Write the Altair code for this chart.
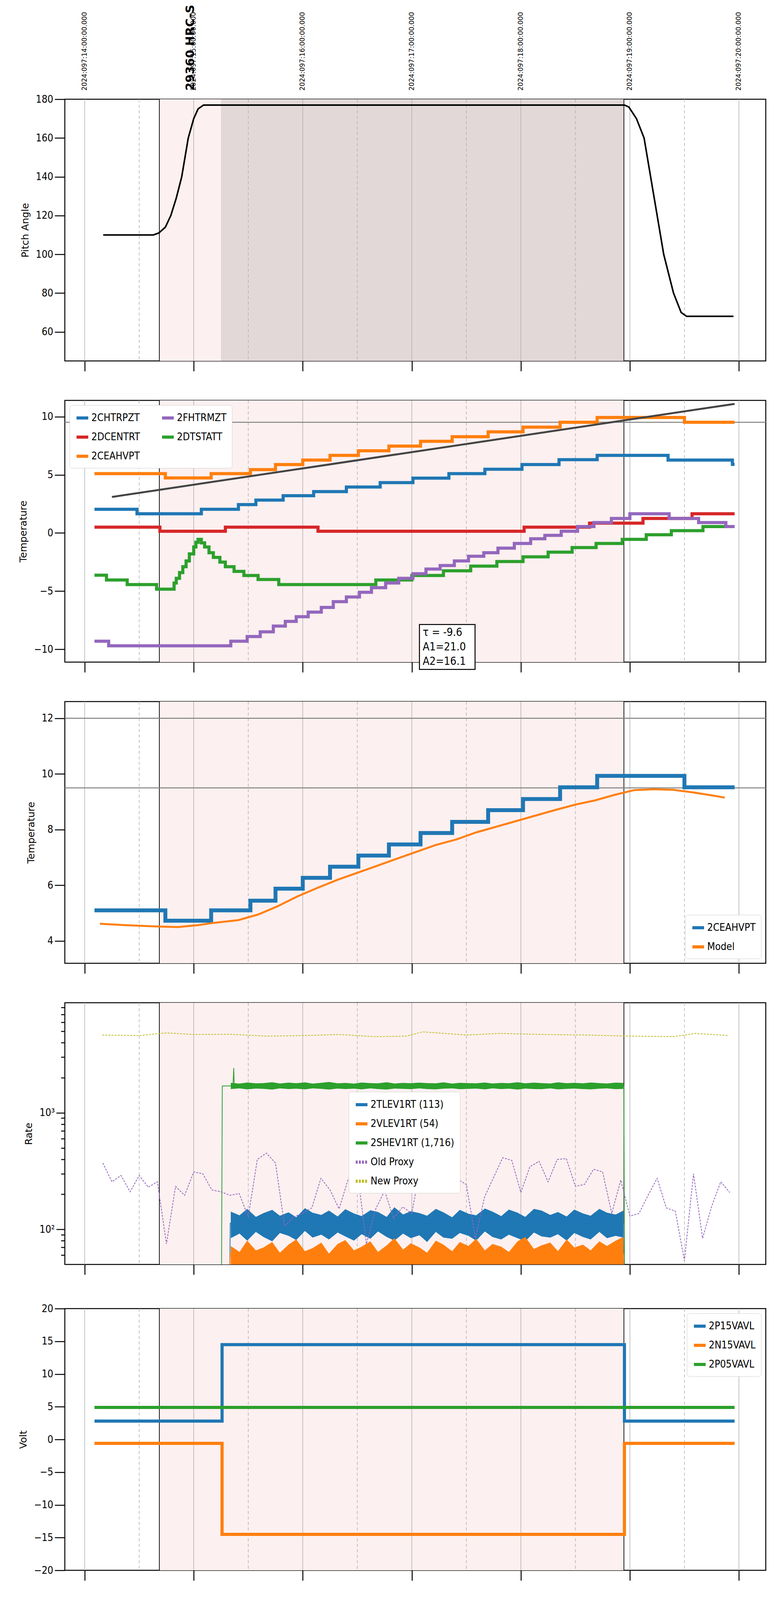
import altair as alt
import pandas as pd

COND = "DejaVu Sans Condensed, Liberation Sans Narrow, sans-serif"
W, H = 1795, 670
XDOM = [9.818, 16.246]
SHADE = (10.685, 14.945)
DARK = (11.25, 14.945)
HOURS = [10, 11, 12, 13, 14, 15, 16]
HALVES = [10.5, 11.5, 12.5, 13.5, 14.5, 15.5]
TAB = ["#1f77b4", "#ff7f0e", "#2ca02c", "#d62728", "#9467bd"]

# ---- pitch
PITCH_T = [10.17, 10.63, 10.68, 10.74, 10.79, 10.84, 10.89, 10.95, 11.0, 11.04, 11.09,
           14.95, 14.99, 15.06, 15.13, 15.19, 15.25, 15.31, 15.40, 15.47, 15.52, 15.95]
PITCH_V = [110, 110, 111, 114, 120, 129, 140, 160, 170, 175, 177,
           177, 176, 170, 160, 140, 120, 100, 80, 70, 68, 68]

# ---- temperatures
CHTRPZT_T = [10.09, 10.48, 11.07, 11.41, 11.57, 11.82, 12.10, 12.40, 12.71, 13.01, 13.34, 13.67, 14.01, 14.35, 14.70, 15.35, 15.94, 15.96]
CHTRPZT_V = [2.04, 1.65, 2.04, 2.44, 2.83, 3.21, 3.56, 3.95, 4.33, 4.72, 5.10, 5.48, 5.88, 6.30, 6.67, 6.27, 5.90, 5.90]
CEAHVPT_T = [10.09, 10.74, 11.16, 11.52, 11.75, 12.00, 12.25, 12.51, 12.79, 13.08, 13.37, 13.70, 14.02, 14.36, 14.70, 15.50, 15.96]
CEAHVPT_V = [5.10, 4.73, 5.10, 5.45, 5.88, 6.27, 6.67, 7.07, 7.47, 7.88, 8.28, 8.70, 9.10, 9.52, 9.93, 9.52, 9.52]
DTSTATT_T = [10.09, 10.20, 10.39, 10.66, 10.82, 10.84, 10.87, 10.90, 10.93, 10.96, 11.00, 11.02, 11.04, 11.07, 11.10, 11.14,
             11.18, 11.24, 11.29, 11.37, 11.46, 11.59, 11.78, 12.67, 13.00, 13.29, 13.54, 13.78, 14.02, 14.25, 14.47, 14.69,
             14.93, 15.15, 15.38, 15.67, 15.96]
DTSTATT_V = [-3.63, -4.04, -4.43, -4.83, -4.3, -3.9, -3.4, -2.9, -2.4, -1.8, -1.2, -0.8, -0.55, -0.85, -1.2, -1.7,
             -2.1, -2.5, -2.9, -3.3, -3.65, -4.0, -4.43, -4.04, -3.65, -3.25, -2.85, -2.45, -2.05, -1.65, -1.25, -0.9,
             -0.55, -0.15, 0.2, 0.55, 0.55]
DCENTRT_T = [10.09, 10.69, 11.29, 12.14, 14.03, 14.63, 15.12, 15.57, 15.96]
DCENTRT_V = [0.5, 0.15, 0.5, 0.15, 0.5, 0.85, 1.25, 1.65, 1.65]
FHTRMZT_T = [10.09, 10.22, 11.34, 11.49, 11.61, 11.73, 11.84, 11.94, 12.05, 12.17, 12.28, 12.40, 12.52, 12.63, 12.76, 12.88,
             13.01, 13.13, 13.26, 13.39, 13.52, 13.66, 13.79, 13.94, 14.09, 14.22, 14.37, 14.52, 14.67, 14.83, 15.00, 15.36,
             15.63, 15.88, 15.96]
FHTRMZT_V = [-9.3, -9.7, -9.3, -8.9, -8.5, -8.0, -7.6, -7.2, -6.8, -6.4, -5.9, -5.5, -5.1, -4.7, -4.3, -3.9,
             -3.5, -3.1, -2.8, -2.4, -2.0, -1.7, -1.3, -0.9, -0.5, -0.2, 0.15, 0.55, 0.9, 1.25, 1.65, 1.25,
             0.9, 0.55, 0.55]
FIT_T = [10.25, 15.96]
FIT_V = [3.1, 11.1]
MODEL_T = [10.14, 10.36, 10.68, 10.86, 11.04, 11.18, 11.41, 11.59, 11.77, 11.95, 12.13, 12.32, 12.50, 12.68, 12.86, 13.04,
           13.22, 13.41, 13.59, 13.77, 13.95, 14.13, 14.31, 14.50, 14.68, 14.86, 15.04, 15.22, 15.40, 15.59, 15.77, 15.87]
MODEL_V = [4.62, 4.57, 4.52, 4.50, 4.57, 4.65, 4.75, 4.95, 5.25, 5.6, 5.9, 6.2, 6.45, 6.7, 6.95, 7.2,
           7.45, 7.65, 7.9, 8.1, 8.3, 8.5, 8.7, 8.9, 9.05, 9.25, 9.42, 9.45, 9.43, 9.33, 9.22, 9.15]

# ---- rates
BAND_T = [11.34, 11.42, 11.49, 11.57, 11.64, 11.72, 11.79, 11.87, 11.94, 12.02, 12.09, 12.17, 12.24, 12.32, 12.39, 12.47,
          12.54, 12.62, 12.69, 12.77, 12.84, 12.92, 12.99, 13.07, 13.14, 13.22, 13.29, 13.37, 13.44, 13.52, 13.59, 13.67,
          13.74, 13.82, 13.89, 13.97, 14.04, 14.12, 14.19, 14.27, 14.34, 14.42, 14.49, 14.57, 14.64, 14.72, 14.79, 14.87, 14.94]
TLEV_HI = [142, 132, 150, 128, 138, 147, 131, 140, 127, 152, 139, 133, 145, 129, 149, 137, 130, 146, 141, 128, 155, 134,
           143, 138, 131, 150, 140, 127, 147, 136, 132, 151, 142, 130, 148, 139, 128, 150, 145, 133, 141, 129, 148, 137,
           131, 150, 139, 134, 145]
TLEV_LO = [84, 92, 80, 95, 86, 79, 93, 88, 81, 97, 85, 90, 82, 94, 87, 80, 91, 83, 96, 86, 80, 92, 84, 89, 78, 95,
           85, 83, 93, 88, 80, 96, 86, 82, 90, 84, 79, 94, 87, 85, 91, 80, 93, 86, 82, 95, 84, 88, 85]
VLEV_HI = [72, 64, 80, 66, 70, 78, 63, 74, 82, 65, 69, 77, 62, 75, 81, 66, 71, 79, 64, 73, 84, 67, 76, 70, 63,
           80, 74, 65, 78, 72, 83, 66, 75, 71, 64, 79, 86, 68, 73, 77, 65, 82, 70, 74, 66, 79, 72, 80, 86]
SHEV_HI = [1810, 1780, 1820, 1790, 1800, 1830, 1785, 1815, 1795, 1825, 1780, 1810, 1840, 1790, 1805, 1780, 1820, 1800,
           1790, 1830, 1785, 1805, 1795, 1815, 1800, 1790, 1825, 1780, 1810, 1800, 1790, 1820, 1785, 1805, 1795, 1830,
           1790, 1815, 1800, 1785, 1825, 1795, 1810, 1790, 1820, 1800, 1785, 1815, 1805]
SHEV_LO = [1600, 1620, 1590, 1615, 1605, 1585, 1620, 1600, 1610, 1590, 1620, 1605, 1585, 1615, 1600, 1610, 1590, 1620,
           1600, 1585, 1615, 1605, 1595, 1620, 1600, 1590, 1610, 1620, 1595, 1605, 1615, 1590, 1620, 1600, 1610, 1585,
           1615, 1600, 1595, 1620, 1590, 1605, 1615, 1600, 1590, 1610, 1620, 1595, 1605]
TLEV_T = [11.33, 11.335, 14.945, 14.95]
TLEV_V = [40, 113, 113, 40]
VLEV_V = [40, 62, 62, 40]
SHEV_T = [11.255, 11.262, 11.36, 11.367, 11.372, 14.945, 14.95]
SHEV_V = [40, 1700, 1700, 2420, 1700, 1700, 40]
OLD_T = ["10:10", "10:15", "10:20", "10:25", "10:30", "10:35", "10:40", "10:45", "10:50", "10:55", "11:00", "11:05", "11:10", "11:15",
         "11:20", "11:25", "11:30", "11:35", "11:40", "11:45", "11:50", "11:55", "12:00", "12:05", "12:10", "12:15", "12:20", "12:25",
         "12:30", "12:35", "12:40", "12:45", "12:50", "12:55", "13:00", "13:05", "13:10", "13:15", "13:20", "13:25", "13:30", "13:35",
         "13:40", "13:45", "13:50", "13:55", "14:00", "14:05", "14:10", "14:15", "14:20", "14:25", "14:30", "14:35", "14:40", "14:45",
         "14:50", "14:55", "15:00", "15:05", "15:10", "15:15", "15:20", "15:25", "15:30", "15:35", "15:40", "15:45", "15:50", "15:55"]
OLD_V = [371, 256, 290, 210, 290, 230, 256, 75, 234, 196, 311, 300, 218, 210, 196, 203, 128, 398, 451, 371, 107, 128, 137, 153,
         274, 218, 150, 270, 322, 75, 148, 214, 124, 156, 137, 365, 270, 210, 210, 270, 243, 84, 189, 279, 412, 391, 207, 345,
         384, 256, 398, 405, 234, 243, 328, 311, 137, 265, 130, 137, 196, 274, 153, 143, 54, 300, 84, 158, 256, 207]
NEW_T = [10.16, 10.5, 10.75, 11.0, 11.33, 11.67, 12.0, 12.33, 12.67, 12.95, 13.1, 13.5, 13.8, 14.2, 14.6, 15.0, 15.4, 15.6, 15.9]
NEW_V = [4650, 4600, 4850, 4700, 4720, 4550, 4600, 4700, 4500, 4550, 4950, 4650, 4800, 4700, 4650, 4550, 4500, 4800, 4600]

# ---- voltages
VOLT_T = [10.09, 11.26, 14.95, 15.96]
P15_V = [2.8, 14.5, 2.8, 2.8]
N15_V = [-0.6, -14.5, -0.6, -0.6]
P05_V = [4.9, 4.9, 4.9, 4.9]

# ---- HV monitor
HVB_T = [11.26, 11.265, 11.27, 11.28, 11.29, 11.30, 11.31, 11.33]
HVB_V = [122, 111, 102, 97, 92, 87, 82, 78]
HVO_T = [11.26, 11.265, 11.27, 11.28, 11.29, 11.30, 11.31, 11.32, 12.95, 13.04, 13.07, 13.09, 13.11, 13.49, 13.62, 13.66, 13.68, 13.72]
HVO_V = [127, 107, 96, 90, 85, 80, 75, 71, 127, 127, 127, 127, 127, 127, 127, 127, 127, 127]
HV_FLAT_T = [11.33, 14.96]
HVB_FLAT = [77, 77]
HVO_FLAT = [70.5, 70.5]

# ---- detector temps
SPINATM_T = [11.26, 11.34, 11.43, 11.56, 11.79, 13.57, 14.34, 14.94]
SPINATM_V = [4.1, 3.65, 3.15, 2.7, 2.2, 2.7, 3.15, 3.15]
SPHVATM_T = [11.26, 11.44, 11.51, 11.59, 11.66, 11.74, 11.83, 11.92, 12.03, 12.14, 12.27, 12.41, 12.54, 12.71, 12.91, 13.22,
             13.27, 13.48, 13.75, 14.03, 14.30, 14.56, 14.86, 14.96]
SPHVATM_V = [13.3, 13.6, 13.9, 14.3, 14.6, 15.0, 15.3, 15.7, 16.0, 16.3, 16.7, 17.0, 17.4, 17.7, 18.0, 18.4,
             18.8, 19.2, 19.6, 19.9, 20.3, 20.6, 21.0, 21.0]
IMINATM_T = [11.26, 11.92, 12.11, 14.09, 14.94]
IMINATM_V = [-0.55, -0.3, -0.05, 0.35, 0.35]
IMHVATM_T = [11.255, 11.26, 11.58, 11.91, 12.17, 12.41, 12.66, 12.92, 13.22, 13.38, 13.70, 13.93, 14.20, 14.47, 14.77, 14.94]
IMHVATM_V = [-5, 12.3, 12.6, 12.95, 13.3, 13.65, 13.95, 14.3, 14.6, 15.0, 15.3, 15.7, 16.0, 16.4, 16.7, 16.7]
SPIKE_G1 = [12.94, 12.97, 13.0, 13.03, 13.06, 13.10, 13.12, 13.16, 13.19, 13.22]
SPIKE_G2 = [13.48, 13.51, 13.54, 13.57, 13.60, 13.62, 13.66, 13.69, 13.72]
DROPOUT_T = 14.96

# ---- FEA temps
FRADPYT_T = [11.6, 11.76, 11.88, 12.0, 12.10, 12.23, 12.35, 12.47, 12.59, 12.72, 12.86, 12.99, 13.08, 13.20, 13.38, 13.55,
             13.68, 13.84, 13.99, 14.13, 14.29, 14.44, 14.61, 14.77, 14.95, 15.15, 15.39, 15.52, 15.64, 15.80, 15.96]
FRADPYT_V = [-9.7, -9.28, -8.8, -8.4, -8.0, -7.6, -7.2, -6.8, -6.4, -6.0, -5.6, -5.2, -4.8, -4.4, -4.05, -3.67,
             -3.3, -2.9, -2.5, -2.12, -1.75, -1.35, -0.98, -0.6, -0.25, -0.6, -0.98, -1.35, -1.75, -2.14, -2.14]
FEPRATM_T = [11.29, 11.33, 11.38, 11.43, 11.49, 11.56, 11.65, 11.74, 11.85, 11.95, 12.07, 12.18, 12.30, 12.42, 12.55, 12.68,
             12.82, 12.94, 13.23, 13.38, 13.54, 13.70, 13.85, 14.01, 14.18, 14.36, 14.53, 14.73, 14.94]
FEPRATM_V = [-9.4, -9.0, -8.5, -8.1, -7.7, -7.3, -6.9, -6.5, -6.0, -5.6, -5.2, -4.8, -4.4, -4.0, -3.6, -3.2,
             -2.8, -2.4, -1.4, -0.95, -0.55, -0.1, 0.35, 0.8, 1.25, 1.75, 2.2, 2.6, 2.6]
FE00ATM_T = [11.61, 11.70, 11.78, 11.88, 11.97, 12.03, 12.12, 12.22, 12.32, 12.41, 12.50, 12.61, 12.70, 12.79, 12.92, 13.22,
             13.40, 13.52, 13.70, 13.77, 13.86, 13.95, 14.09, 14.20, 14.31, 14.41, 14.54, 14.65, 14.77, 14.86, 14.94]
FE00ATM_V = [-9.4, -9.1, -8.75, -8.4, -8.0, -7.7, -7.3, -6.95, -6.6, -6.3, -6.0, -5.6, -5.3, -5.0, -4.7, -3.3,
             -2.9, -2.6, -2.1, -1.7, -1.6, -1.3, -0.95, -0.6, -0.4, -0.1, 0.15, 0.5, 0.9, 1.25, 1.25]


def hrs(s):
    h, m = s.split(":")
    return int(h) + int(m) / 60


def frame(*series):
    rows = []
    for name, ts, vs in series:
        rows += [{"name": name, "t": t, "v": v} for t, v in zip(ts, vs)]
    return pd.DataFrame(rows)


def xenc(ax):
    return alt.X("t:Q", scale=alt.Scale(domain=XDOM, nice=False, zero=False), axis=ax, title=None)


def yaxis(title, **kw):
    opts = dict(title=title, grid=False, domain=False, tickSize=26, tickWidth=2.5, tickColor="black",
                labelFont=COND, labelFontSize=26, labelColor="black", labelPadding=4, titleFont="DejaVu Sans",
                titleFontSize=25, titleFontWeight="normal", titleColor="black", titlePadding=14)
    opts.update(kw)
    return alt.Axis(**opts)


AX_MID = alt.Axis(values=HOURS, labels=False, grid=False, domain=False, tickSize=26, tickWidth=2.5,
                  tickColor="black", title=None)
AX_BOT = alt.Axis(values=sorted(HOURS + HALVES), grid=False, domain=False, tickWidth=2.5, tickColor="black",
                  tickSize={"condition": {"test": "datum.value % 1 != 0", "value": 8}, "value": 22},
                  labelExpr="datum.value % 1 == 0 ? format(datum.value, 'd') + 'h' : '30'",
                  labelFontSize={"condition": {"test": "datum.value % 1 != 0", "value": 16}, "value": 28},
                  labelFont=COND, labelColor="black", labelPadding=6,
                  title="2024-04-06 (097)", titleFont=COND, titleFontSize=32, titleFontWeight="normal",
                  titleColor="black", titlePadding=8)


def background(ax, dark=False):
    layers = [alt.Chart(pd.DataFrame({"t": [SHADE[0]], "t2": [SHADE[1]]})).mark_rect(color="#fdf0f0")
              .encode(x=xenc(ax), x2="t2", y=alt.value(0), y2=alt.value(H))]
    if dark:
        layers.append(alt.Chart(pd.DataFrame({"t": [DARK[0]], "t2": [DARK[1]]})).mark_rect(color="#e3d8d8")
                      .encode(x=xenc(ax), x2="t2", y=alt.value(0), y2=alt.value(H)))
    layers += [
        alt.Chart(pd.DataFrame({"t": HOURS})).mark_rule(color="#b0b0b0", strokeWidth=1.5).encode(x=xenc(ax)),
        alt.Chart(pd.DataFrame({"t": HALVES})).mark_rule(color="#b0b0b0", strokeWidth=1.5, strokeDash=[8, 6])
        .encode(x=xenc(ax)),
        alt.Chart(pd.DataFrame({"t": list(SHADE)})).mark_rule(color="black", strokeWidth=1.8).encode(x=xenc(ax)),
    ]
    return layers


def color(names, cols, **legend):
    return alt.Color("name:N", scale=alt.Scale(domain=names, range=cols), title=None,
                     sort=names, legend=alt.Legend(**legend))


def steps(df, ax, y, names, cols, width, legend, interp="step-after"):
    return alt.Chart(df).mark_line(interpolate=interp, strokeWidth=width, clip=True).encode(
        x=xenc(ax), y=y, color=color(names, cols, **legend), detail="name:N")


def hrule(vals, y):
    return alt.Chart(pd.DataFrame({"v": vals})).mark_rule(color="#808080", strokeWidth=2.5).encode(y=y)


def spikes(groups, ax, y, col, width=5):
    rows = []
    for ts, lo, hi in groups:
        rows += [{"t": t, "v": lo, "v2": hi} for t in ts]
    return alt.Chart(pd.DataFrame(rows)).mark_rule(color=col, strokeWidth=width, clip=True).encode(
        x=xenc(ax), y=y, y2="v2")


LEG_TR = dict(orient="top-right", offset=12)

# ---- panel 1: pitch
y1 = alt.Y("v:Q", scale=alt.Scale(domain=[45, 180], nice=False), axis=yaxis("Pitch Angle", values=[60, 80, 100, 120, 140, 160, 180]))
top_df = pd.DataFrame({"t": HOURS, "label": [f"2024:097:{h + 4}:00:00.000" for h in HOURS]})
p1 = alt.layer(
    *background(AX_MID, dark=True),
    alt.Chart(frame(("pitch", PITCH_T, PITCH_V))).mark_line(color="black", strokeWidth=4).encode(x=xenc(AX_MID), y=y1),
    alt.Chart(top_df).mark_text(angle=270, align="left", baseline="middle", fontSize=17, font="DejaVu Sans",
                                color="black").encode(x=xenc(AX_MID), y=alt.value(-22), text="label:N"),
    alt.Chart(pd.DataFrame({"t": [10.97], "label": ["29360 HRC-S"]})).mark_text(
        angle=270, align="left", baseline="middle", fontSize=30, fontWeight="bold", font="DejaVu Sans",
        color="black").encode(x=xenc(AX_MID), y=alt.value(-22), text="label:N"),
).properties(width=W, height=H)

# ---- panel 2: temperatures
y2 = alt.Y("v:Q", scale=alt.Scale(domain=[-11.1, 11.4], nice=False), axis=yaxis("Temperature", values=[-10, -5, 0, 5, 10], labelExpr="replace(format(datum.value,'d'),'-','−')"))
N2 = ["2CHTRPZT", "2DCENTRT", "2CEAHVPT", "2FHTRMZT", "2DTSTATT"]
C2 = [TAB[0], TAB[3], TAB[1], TAB[4], TAB[2]]
df2 = frame(("2CHTRPZT", CHTRPZT_T, CHTRPZT_V), ("2CEAHVPT", CEAHVPT_T, CEAHVPT_V), ("2DTSTATT", DTSTATT_T, DTSTATT_V),
            ("2DCENTRT", DCENTRT_T, DCENTRT_V), ("2FHTRMZT", FHTRMZT_T, FHTRMZT_V))
p2 = alt.layer(
    *background(AX_MID),
    hrule([9.52], y2),
    steps(df2, AX_MID, y2, N2, C2, 8, dict(orient="top-left", offset=12, columns=2, columnPadding=40)),
    alt.Chart(frame(("fit", FIT_T, FIT_V))).mark_line(color="#444444", strokeWidth=5).encode(x=xenc(AX_MID), y=y2),
    alt.Chart(pd.DataFrame({"t": [13.07], "t2": [13.58], "v": [-7.87], "v2": [-11.73]})).mark_rect(
        fill="white", stroke="black", strokeWidth=2.5).encode(x=xenc(AX_MID), x2="t2", y=y2, y2="v2"),
    alt.Chart(pd.DataFrame({"t": [13.1], "v": [-8.1], "label": ["τ = -9.6\nA1=21.0\nA2=16.1"]})).mark_text(
        align="left", baseline="top", lineBreak="\n", fontSize=28, font=COND, lineHeight=37, color="black"
    ).encode(x=xenc(AX_MID), y=y2, text="label:N"),
).properties(width=W, height=H)

# ---- panel 3: model
y3 = alt.Y("v:Q", scale=alt.Scale(domain=[3.2, 12.6], nice=False), axis=yaxis("Temperature", values=[4, 6, 8, 10, 12]))
N3 = ["2CEAHVPT", "Model"]
LEG3 = dict(orient="bottom-right", offset=12)
p3 = alt.layer(
    *background(AX_MID),
    hrule([9.5, 12], y3),
    steps(frame(("2CEAHVPT", CEAHVPT_T, CEAHVPT_V)), AX_MID, y3, N3, [TAB[0], TAB[1]], 10, LEG3),
    alt.Chart(frame(("Model", MODEL_T, MODEL_V))).mark_line(strokeWidth=5).encode(
        x=xenc(AX_MID), y=y3, color=color(N3, [TAB[0], TAB[1]], **LEG3)),
).properties(width=W, height=H)

# ---- panel 4: rates
LOGV = [60, 70, 80, 90, 100, 200, 300, 400, 500, 600, 700, 800, 900, 1000, 2000, 3000, 4000, 5000, 6000, 7000, 8000]
S4 = alt.Scale(type="log", domain=[50, 8800], nice=False)
A4 = yaxis("Rate", values=LOGV,
           tickSize={"condition": {"test": "datum.value == 100 || datum.value == 1000", "value": 22}, "value": 10},
           labelExpr="datum.value == 100 ? '10²' : datum.value == 1000 ? '10³' : ''")
y4 = alt.Y("v:Q", scale=S4, axis=A4)
N4 = ["2TLEV1RT (113)", "2VLEV1RT (54)", "2SHEV1RT (1,716)", "Old Proxy", "New Proxy"]
C4 = [TAB[0], TAB[1], TAB[2], TAB[4], "#bcbd22"]
band = pd.DataFrame({"t": BAND_T, "tlo": TLEV_LO, "thi": TLEV_HI, "vhi": VLEV_HI, "slo": SHEV_LO, "shi": SHEV_HI})
df4 = frame((N4[0], TLEV_T, TLEV_V), (N4[1], TLEV_T, VLEV_V), (N4[2], SHEV_T, SHEV_V),
            (N4[3], [hrs(s) for s in OLD_T], OLD_V), (N4[4], NEW_T, NEW_V))
leg4 = dict(orient="none", legendX=727, legendY=228)
p4 = alt.layer(
    *background(AX_MID),
    alt.Chart(band).mark_area(color=TAB[0], clip=True).encode(x=xenc(AX_MID), y=alt.Y("tlo:Q", scale=S4, axis=A4), y2="thi"),
    alt.Chart(band).mark_area(color=TAB[1], clip=True).encode(x=xenc(AX_MID), y=alt.Y("vhi:Q", scale=S4, axis=A4), y2=alt.datum(40)),
    alt.Chart(band).mark_area(color=TAB[2], clip=True).encode(x=xenc(AX_MID), y=alt.Y("slo:Q", scale=S4, axis=A4), y2="shi"),
    alt.Chart(df4).mark_line(strokeWidth=2, clip=True).encode(
        x=xenc(AX_MID), y=y4, color=color(N4, C4, **leg4),
        strokeDash=alt.StrokeDash("name:N", scale=alt.Scale(domain=N4, range=[[1, 0], [1, 0], [1, 0], [5, 3], [5, 3]]),
                                  title=None, sort=N4, legend=alt.Legend(**leg4))),
).properties(width=W, height=H)

# ---- panel 5: volts
y5 = alt.Y("v:Q", scale=alt.Scale(domain=[-20, 20], nice=False), axis=yaxis("Volt", values=list(range(-20, 21, 5)), labelExpr="replace(format(datum.value,'d'),'-','−')"))
N5 = ["2P15VAVL", "2N15VAVL", "2P05VAVL"]
p5 = alt.layer(
    *background(AX_MID),
    steps(frame((N5[0], VOLT_T, P15_V), (N5[1], VOLT_T, N15_V), (N5[2], VOLT_T, P05_V)), AX_MID, y5, N5, TAB[:3], 8, LEG_TR),
).properties(width=W, height=H)

# ---- panel 6: HV monitor
y6 = alt.Y("v:Q", scale=alt.Scale(domain=[0, 266], nice=False), axis=yaxis("HV Monitor", values=[0, 50, 100, 150, 200, 250]))
N6 = ["2SPHBLV", "2SPHVLV", "2IMHVLV", "2IMHBLV"]
p6 = alt.layer(
    *background(AX_MID),
    alt.Chart(frame(("b", HV_FLAT_T, HVB_FLAT))).mark_line(color=TAB[0], strokeWidth=12).encode(x=xenc(AX_MID), y=y6),
    alt.Chart(frame(("o", HV_FLAT_T, HVO_FLAT))).mark_line(color=TAB[1], strokeWidth=11).encode(x=xenc(AX_MID), y=y6),
    alt.Chart(frame((N6[0], HVB_T, HVB_V), (N6[1], HVO_T, HVO_V))).mark_circle(size=70, opacity=1).encode(
        x=xenc(AX_MID), y=y6, color=color(N6, TAB[:4], orient="top-right", offset=12, symbolType="circle", symbolSize=120)),
).properties(width=W, height=H)

# ---- panel 7: detector temp
y7 = alt.Y("v:Q", scale=alt.Scale(domain=[-1.6, 21.4], nice=False), axis=yaxis("Detector Temp", values=[0, 5, 10, 15, 20]))
N7 = ["2SPINATM", "2SPHVATM", "2IMINATM", "2IMHVATM"]
df7 = frame((N7[0], SPINATM_T, SPINATM_V), (N7[1], SPHVATM_T, SPHVATM_V), (N7[2], IMINATM_T, IMINATM_V),
            (N7[3], IMHVATM_T, IMHVATM_V))
p7 = alt.layer(
    *background(AX_MID),
    spikes([(SPIKE_G1, -2, 2.2), (SPIKE_G2, -2, 2.7)], AX_MID, y7, TAB[0]),
    spikes([(SPIKE_G1, 9.0, 18.3), (SPIKE_G2, 9.6, 19.2)], AX_MID, y7, TAB[1]),
    spikes([(SPIKE_G1, 0, 2.2), (SPIKE_G2, 0, 2.7)], AX_MID, y7, TAB[2]),
    spikes([(SPIKE_G1[:7], 14.3, 18.2), ([13.06], 9.0, 18.3), (SPIKE_G2, 15.0, 19.2)], AX_MID, y7, TAB[3]),
    steps(df7, AX_MID, y7, N7, TAB[:4], 7, LEG_TR),
    spikes([([DROPOUT_T], -5, 30)], AX_MID, y7, TAB[3], 9),
).properties(width=W, height=H)

# ---- panel 8: FEA temp
y8 = alt.Y("v:Q", scale=alt.Scale(domain=[-9.5, 2.3], nice=False), axis=yaxis("FEA Temp", values=[-8, -6, -4, -2, 0, 2], labelExpr="replace(format(datum.value,'d'),'-','−')"))
N8 = ["2FHTRMZT", "2FRADPYT", "2FEPRATM", "2FE00ATM"]
df8 = frame((N8[0], FHTRMZT_T, FHTRMZT_V), (N8[1], FRADPYT_T, FRADPYT_V), (N8[2], FEPRATM_T, FEPRATM_V),
            (N8[3], FE00ATM_T, FE00ATM_V))
p8 = alt.layer(
    *background(AX_BOT),
    spikes([(SPIKE_G1, -6.1, -2.3), (SPIKE_G2, -6.1, -0.9)], AX_BOT, y8, TAB[2]),
    spikes([(SPIKE_G1, -4.0, 3), ([13.06], -10, 3), (SPIKE_G2, -2.3, 3)], AX_BOT, y8, TAB[3]),
    steps(df8, AX_BOT, y8, N8, TAB[:4], 7, dict(orient="bottom-right", offset=12)),
    spikes([([DROPOUT_T], -12, 5)], AX_BOT, y8, TAB[3], 9),
).properties(width=W, height=H)

chart = alt.vconcat(p1, p2, p3, p4, p5, p6, p7, p8, spacing=69).resolve_scale(
    color="independent", strokeDash="independent", y="independent"
).properties(padding={"top": 2, "left": 38, "right": 5, "bottom": 5}).configure_view(
    stroke="black", strokeWidth=2.5
).configure_legend(
    labelFont=COND, labelFontSize=26, labelColor="black", symbolStrokeWidth=8, symbolSize=900,
    strokeColor="#d0d0d0", fillColor="white", padding=14, cornerRadius=6, rowPadding=14, labelLimit=400,
    symbolType="stroke",
)

chart.save("out.html", embed_options={"renderer": "svg", "actions": False})
